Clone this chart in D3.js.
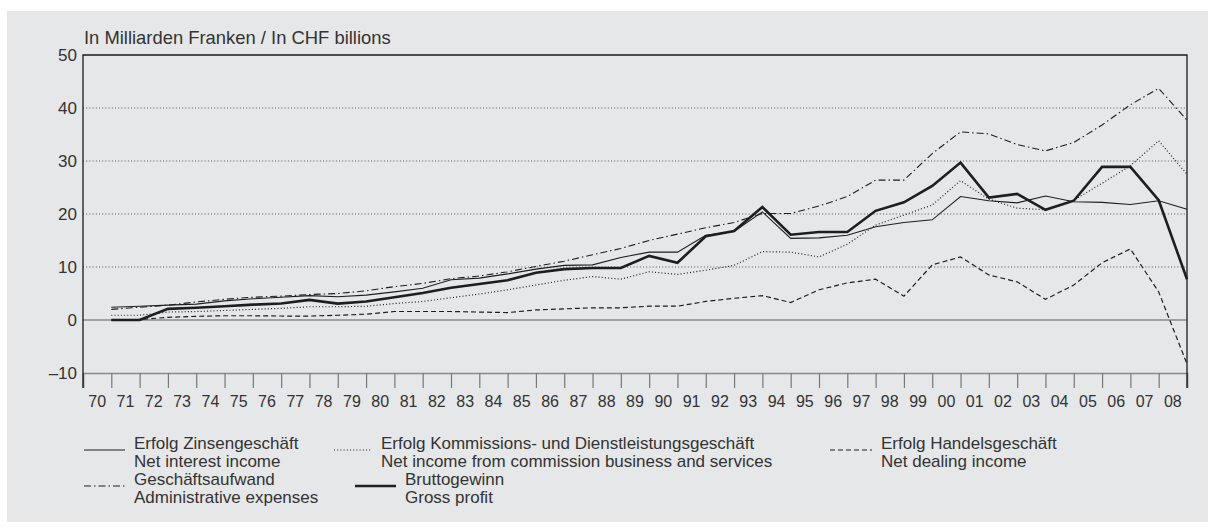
<!DOCTYPE html>
<html>
<head>
<meta charset="utf-8">
<script src="https://cdn.jsdelivr.net/npm/d3@7"></script>
<style>
  body { margin: 0; background: #fff; }
  svg text { font-family: "Liberation Sans", Arial, sans-serif; fill: #333; }
</style>
</head>
<body>
<div id="chart"></div>
<script>
// data, in CHF billions, one value per year 1970-2008
const yearLabels = ["70","71","72","73","74","75","76","77","78","79",
  "80","81","82","83","84","85","86","87","88","89",
  "90","91","92","93","94","95","96","97","98","99",
  "00","01","02","03","04","05","06","07","08"];

const zinsen = [2.4, 2.6, 2.8, 3.0, 3.6, 4.0, 4.3, 4.6, 4.4, 4.7,
  5.3, 6.0, 7.6, 7.9, 8.7, 9.6, 10.3, 10.4, 11.8, 12.8,
  12.8, 16.0, 16.7, 20.4, 15.4, 15.5, 16.0, 17.6, 18.4, 18.9,
  23.3, 22.5, 22.1, 23.4, 22.3, 22.2, 21.8, 22.5, 20.9];

const kommission = [0.9, 0.9, 1.5, 1.6, 1.8, 2.0, 2.2, 2.5, 2.5, 2.6,
  3.1, 3.5, 4.2, 4.9, 5.7, 6.6, 7.5, 8.2, 7.7, 9.1,
  8.6, 9.4, 10.3, 12.9, 12.8, 11.9, 14.3, 17.9, 19.8, 21.7,
  26.3, 22.8, 21.1, 20.8, 22.6, 25.8, 29.1, 33.8, 27.5];

const handel = [0, 0.1, 0.5, 0.7, 0.8, 0.8, 0.75, 0.75, 0.9, 1.1,
  1.6, 1.6, 1.6, 1.5, 1.4, 1.9, 2.1, 2.3, 2.3, 2.6,
  2.6, 3.5, 4.1, 4.6, 3.3, 5.7, 7.0, 7.7, 4.5, 10.4,
  11.9, 8.5, 7.2, 3.9, 6.6, 10.8, 13.4, 5.3, -8.3];

const aufwand = [2.0, 2.4, 2.8, 3.4, 3.9, 4.3, 4.5, 4.8, 5.0, 5.5,
  6.3, 6.9, 7.8, 8.3, 9.1, 10.1, 11.1, 12.3, 13.5, 15.0,
  16.2, 17.4, 18.4, 20.1, 20.1, 21.5, 23.3, 26.4, 26.4, 31.4,
  35.5, 35.1, 33.1, 31.9, 33.5, 36.8, 40.6, 43.7, 37.7];

const brutto = [0, 0, 2.1, 2.3, 2.6, 2.9, 3.1, 3.8, 3.1, 3.5,
  4.3, 5.1, 6.1, 6.8, 7.5, 8.9, 9.6, 9.8, 9.8, 12.1,
  10.8, 15.8, 16.8, 21.3, 16.1, 16.6, 16.6, 20.6, 22.2, 25.3,
  29.7, 23.1, 23.8, 20.8, 22.5, 28.9, 28.9, 22.6, 7.7];

const yTicks = [-10, 0, 10, 20, 30, 40, 50];

const series = [
  { de: "Erfolg Zinsengeschäft", en: "Net interest income", values: zinsen, width: 1.1, dash: null },
  { de: "Erfolg Kommissions- und Dienstleistungsgeschäft", en: "Net income from commission business and services", values: kommission, width: 1.2, dash: "1,2.2" },
  { de: "Erfolg Handelsgeschäft", en: "Net dealing income", values: handel, width: 1.2, dash: "5,3" },
  { de: "Geschäftsaufwand", en: "Administrative expenses", values: aufwand, width: 1.1, dash: "7,3,1.5,3" },
  { de: "Bruttogewinn", en: "Gross profit", values: brutto, width: 2.6, dash: null }
];

////////////////////////////  Init  ////////////////////////////
const width = 1218, height = 530;
const svg = d3.select("#chart").append("svg")
  .attr("width", width).attr("height", height);

// grey panel
svg.append("rect")
  .attr("x", 7).attr("y", 11)
  .attr("width", 1201).attr("height", 511)
  .attr("fill", "#e6e7e9");

const plot = { left: 83, right: 1187, top: 55, bottom: 373 };

// x: each year is one slot, value sits at the end of its slot
const x = d3.scaleLinear()
  .domain([0, yearLabels.length])
  .range([plot.left, plot.right]);
const y = d3.scaleLinear()
  .domain([-10, 50])
  .range([plot.bottom, plot.top]);

// gridlines
svg.append("g")
  .selectAll("line")
  .data(yTicks.filter(d => d > 0 && d < 50))
  .join("line")
  .attr("x1", plot.left).attr("x2", plot.right)
  .attr("y1", d => y(d)).attr("y2", d => y(d))
  .attr("stroke", "#555")
  .attr("stroke-width", 1)
  .attr("stroke-dasharray", "1,2.2");

// zero line
svg.append("line")
  .attr("x1", plot.left).attr("x2", plot.right)
  .attr("y1", y(0)).attr("y2", y(0))
  .attr("stroke", "#8a8a8a").attr("stroke-width", 1.6);

// bottom axis with slot ticks
const xAxis = d3.axisBottom(x)
  .tickValues(d3.range(0, yearLabels.length + 1))
  .tickSize(15)
  .tickFormat("");
const gx = svg.append("g")
  .attr("transform", `translate(0,${plot.bottom})`)
  .call(xAxis);
gx.select(".domain").attr("stroke", "#8a8a8a").attr("stroke-width", 1.6);
gx.selectAll(".tick line").attr("stroke", "#777").attr("stroke-width", 1.2);

// year labels centred in the slot
svg.append("g")
  .selectAll("text")
  .data(yearLabels)
  .join("text")
  .attr("x", (d, i) => x(i + 0.5))
  .attr("y", 407)
  .attr("text-anchor", "middle")
  .attr("font-size", 16)
  .text(d => d);

// frame: left, top, right
svg.append("path")
  .attr("d", `M${plot.left},${plot.bottom + 15}V${plot.top}H${plot.right}V${plot.bottom + 15}`)
  .attr("fill", "none")
  .attr("stroke", "#1a1a1a")
  .attr("stroke-width", 1.3);

// y labels
svg.append("g")
  .selectAll("text")
  .data(yTicks)
  .join("text")
  .attr("x", 77)
  .attr("y", d => y(d) + 6)
  .attr("text-anchor", "end")
  .attr("font-size", 17)
  .text(d => d < 0 ? "\u2013" + Math.abs(d) : d);

svg.append("text")
  .attr("x", 84).attr("y", 44)
  .attr("font-size", 18.4)
  .text("In Milliarden Franken / In CHF billions");

// lines
const line = d3.line()
  .x((d, i) => x(i + 1))
  .y(d => y(d));

svg.append("g")
  .selectAll("path")
  .data(series)
  .join("path")
  .attr("d", d => line(d.values))
  .attr("fill", "none")
  .attr("stroke", "#1e1e1e")
  .attr("stroke-width", d => d.width)
  .attr("stroke-linejoin", "miter")
  .attr("stroke-dasharray", d => d.dash);

// legend
const legendPos = [
  { x: 84, y: 450 }, { x: 334, y: 450 }, { x: 830, y: 450 },
  { x: 84, y: 486 }, { x: 355, y: 486 }
];
const legendTextX = [134, 381, 881, 134, 405];

const lg = svg.append("g")
  .selectAll("g")
  .data(series)
  .join("g");

lg.append("line")
  .attr("x1", (d, i) => legendPos[i].x)
  .attr("x2", (d, i) => legendTextX[i] - 9)
  .attr("y1", (d, i) => legendPos[i].y)
  .attr("y2", (d, i) => legendPos[i].y)
  .attr("stroke", "#1e1e1e")
  .attr("stroke-width", d => d.width)
  .attr("stroke-dasharray", d => d.dash);

lg.append("text")
  .attr("x", (d, i) => legendTextX[i])
  .attr("y", (d, i) => legendPos[i].y - 1)
  .attr("font-size", 17)
  .text(d => d.de);

lg.append("text")
  .attr("x", (d, i) => legendTextX[i])
  .attr("y", (d, i) => legendPos[i].y + 17)
  .attr("font-size", 17)
  .text(d => d.en);
</script>
</body>
</html>
